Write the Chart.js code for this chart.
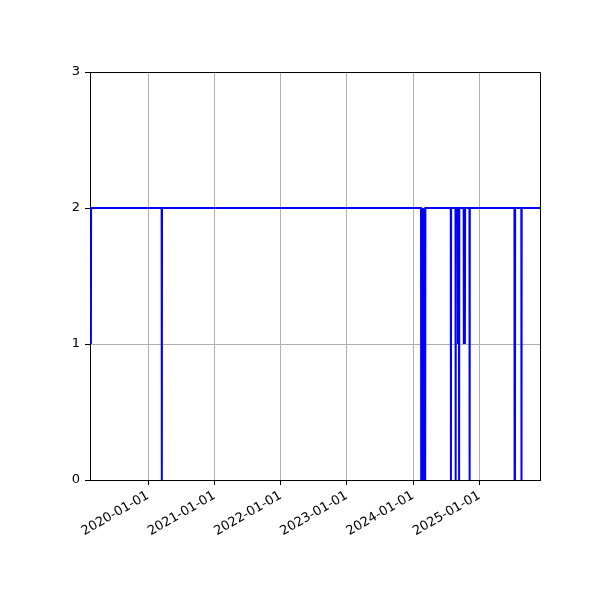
<!DOCTYPE html>
<html>
<head>
<meta charset="utf-8">
<script src="https://cdn.jsdelivr.net/npm/chart.js@4.4.0/dist/chart.umd.min.js"></script>
<style>
    html, body { margin: 0; padding: 0; background: #fff; }
    #wrap { width: 600px; height: 600px; }
</style>
</head>
<body>
<div id="wrap"><canvas id="statusChart"></canvas></div>
<script>
// Data: value stays at 2 except short dips
const pointDates = [
    '2019-02-20', '2019-02-21',
    '2020-03-16', '2020-03-17', '2020-03-18',
    '2024-02-14', '2024-02-15', '2024-02-16', '2024-02-17', '2024-02-18',
    '2024-02-19', '2024-02-20', '2024-02-21', '2024-02-22', '2024-02-23',
    '2024-02-24', '2024-02-25', '2024-02-26', '2024-02-27', '2024-02-28',
    '2024-02-29', '2024-03-01', '2024-03-02', '2024-03-03', '2024-03-04',
    '2024-03-05', '2024-03-06', '2024-03-07', '2024-03-08', '2024-03-09',
    '2024-07-27', '2024-07-28', '2024-07-29',
    '2024-08-22', '2024-08-23', '2024-08-24',
    '2024-09-04', '2024-09-05', '2024-09-06',
    '2024-09-10', '2024-09-11', '2024-09-12',
    '2024-10-06', '2024-10-07', '2024-10-08',
    '2024-10-12', '2024-10-13', '2024-10-14',
    '2024-11-07', '2024-11-08', '2024-11-09',
    '2025-07-13', '2025-07-14', '2025-07-15', '2025-07-16', '2025-07-17',
    '2025-08-20', '2025-08-21', '2025-08-22',
    '2025-12-01'
];
const pointValues = [
    1, 2,
    2, 0, 2,
    2, 0, 2, 0, 2,
    0, 2, 0, 2, 0,
    2, 0, 2, 0, 2,
    0, 2, 0, 2, 0,
    2, 0, 2, 0, 2,
    2, 0, 2,
    2, 0, 2,
    2, 1, 2,
    2, 0, 2,
    2, 1, 2,
    2, 1, 2,
    2, 0, 2,
    2, 0, 2, 0, 2,
    2, 0, 2,
    2
];
const tickDates = ['2020-01-01', '2021-01-01', '2022-01-01', '2023-01-01', '2024-01-01', '2025-01-01'];
const yTicks = [0, 1, 2, 3];
const xMinDate = '2019-02-15';

const toMs = function(d) { return Date.parse(d + 'T00:00:00Z'); };

// Top and right spines like matplotlib
const framePlugin = {
    id: 'frame',
    afterDraw: function(chart) {
        const a = chart.chartArea;
        const ctx = chart.ctx;
        ctx.save();
        ctx.strokeStyle = '#000';
        ctx.lineWidth = 1;
        ctx.beginPath();
        ctx.moveTo(a.left, a.top + 0.5);
        ctx.lineTo(a.right + 0.5, a.top + 0.5);
        ctx.lineTo(a.right + 0.5, a.bottom);
        ctx.stroke();
        ctx.restore();
    }
};

const ctx = document.getElementById('statusChart').getContext('2d');
new Chart(ctx, {
    type: 'line',
    data: {
        datasets: [{
            data: pointDates.map(function(d, i) { return { x: toMs(d), y: pointValues[i] }; }),
            borderColor: '#0000ff',
            borderWidth: 2,
            // a solid "dash" keeps Chart.js off its fast path so dense spikes stay filled
            borderDash: [10000, 0],
            pointRadius: 0,
            tension: 0,
            fill: false
        }]
    },
    options: {
        responsive: true,
        maintainAspectRatio: false,
        animation: false,
        layout: {
            padding: { left: 0, top: 72, right: 60, bottom: 0 }
        },
        scales: {
            x: {
                type: 'linear',
                min: toMs(xMinDate),
                max: toMs(pointDates[pointDates.length - 1]),
                afterBuildTicks: function(scale) {
                    scale.ticks = tickDates.map(function(d) { return { value: toMs(d) }; });
                },
                afterFit: function(scale) {
                    scale.height = 120;
                },
                grid: {
                    color: '#b0b0b0',
                    lineWidth: 1,
                    tickColor: '#000',
                    tickLength: 5
                },
                border: { color: '#000', width: 1 },
                ticks: {
                    autoSkip: false,
                    minRotation: 30,
                    maxRotation: 30,
                    padding: 3,
                    color: '#000',
                    font: { family: 'DejaVu Sans', size: 13 },
                    callback: function(value, index) {
                        return tickDates[index];
                    }
                }
            },
            y: {
                min: 0,
                max: 3,
                afterBuildTicks: function(scale) {
                    scale.ticks = yTicks.map(function(v) { return { value: v }; });
                },
                afterFit: function(scale) {
                    scale.width = 90;
                },
                grid: {
                    color: '#b0b0b0',
                    lineWidth: 1,
                    tickColor: '#000',
                    tickLength: 5
                },
                border: { color: '#000', width: 1 },
                ticks: {
                    padding: 5,
                    color: '#000',
                    font: { family: 'DejaVu Sans', size: 13 }
                }
            }
        },
        plugins: {
            legend: { display: false },
            tooltip: { enabled: false }
        }
    },
    plugins: [framePlugin]
});
</script>
</body>
</html>
